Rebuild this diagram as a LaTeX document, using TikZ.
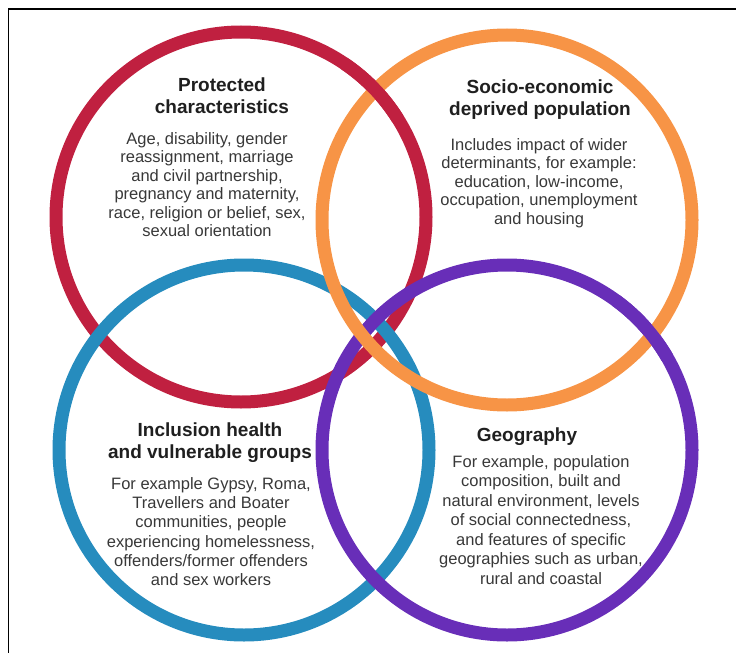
\documentclass[tikz,border=0pt]{standalone}
\usepackage{fontspec}
\setmainfont{Liberation Sans}

\definecolor{protred}{RGB}{192,32,64}
\definecolor{socorange}{RGB}{247,148,70}
\definecolor{inclblue}{RGB}{38,140,190}
\definecolor{geopurple}{RGB}{104,46,184}

\begin{document}
\begin{tikzpicture}[
    x=1pt, y=-1pt,
    ring/.style={
        circle,
        draw=#1,
        line width=13pt,
        minimum size=370pt,
        inner sep=0pt
    },
    overpass/.style={
        draw=#1,
        line width=13pt
    },
    heading/.style={
        anchor=north,
        align=center,
        inner sep=0pt,
        font=\fontsize{19}{22}\selectfont\bfseries,
        text=black!88
    },
    body/.style={
        anchor=north,
        align=center,
        inner sep=0pt,
        font=\fontsize{16.5}{18.5}\selectfont,
        text=black!78
    }
]
\useasboundingbox (0,0) rectangle (736,653);

% outer frame
\draw[line width=1.5pt] (8.5,653) -- (8.5,9) -- (736,9);

% the four rings
\node[ring=protred]   (protected) at (241,217) {};
\node[ring=inclblue]  (inclusion) at (244,450) {};
\node[ring=geopurple] (geography) at (507,450) {};
\node[ring=socorange] (socio)     at (507,220) {};

% interlacing: red passes over orange at the top, purple over orange at the right
\draw[overpass=protred] ([shift={(-56:185)}]protected.center) arc[start angle=-56, end angle=-32, radius=185];
\draw[overpass=geopurple] ([shift={(-54:185)}]geography.center) arc[start angle=-54, end angle=-30, radius=185];

% texts inside the rings
\node[heading] (prot-title) at (222,78) {Protected\\characteristics};
\node[body] (prot-text) at (207,132) {Age, disability, gender\\reassignment, marriage\\and civil partnership,\\pregnancy and maternity,\\race, religion or belief, sex,\\sexual orientation};

\node[heading] (socio-title) at (540,80) {Socio-economic\\deprived population};
\node[body] (socio-text) at (539,138) {Includes impact of wider\\determinants, for example:\\education, low-income,\\occupation, unemployment\\and housing};

\node[heading] (incl-title) at (210,423) {Inclusion health\\and vulnerable groups};
\node[body, font=\fontsize{16.5}{19.3}\selectfont] (incl-text) at (211,477) {For example Gypsy, Roma,\\Travellers and Boater\\communities, people\\experiencing homelessness,\\offenders/former offenders\\and sex workers};

\node[heading] (geo-title) at (527,428) {Geography};
\node[body, font=\fontsize{16.5}{19.5}\selectfont] (geo-text) at (541,455) {For example, population\\composition, built and\\natural environment, levels\\of social connectedness,\\and features of specific\\geographies such as urban,\\rural and coastal};

\end{tikzpicture}
\end{document}
